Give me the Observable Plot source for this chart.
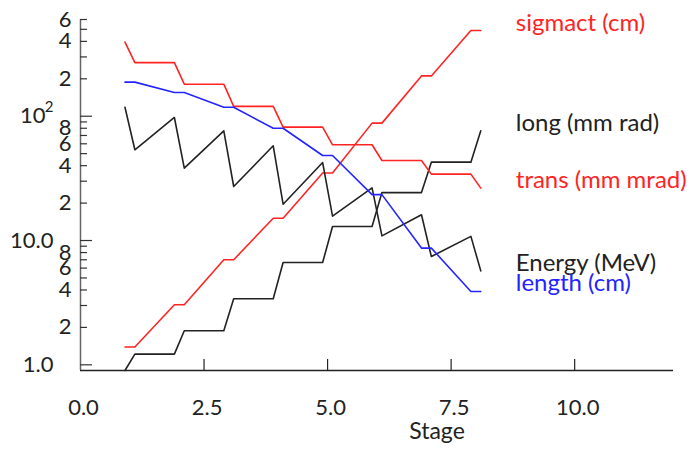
<!DOCTYPE html>
<html><head><meta charset="utf-8">
<script src="https://cdn.jsdelivr.net/npm/d3@7"></script>
<script src="https://cdn.jsdelivr.net/npm/@observablehq/plot@0.6"></script>
<style>body{margin:0;background:#fff}</style>
</head><body><div id="chart"></div>
<script>
// Stage positions (each stage has a value just before and just after it)
const stageX = [0.9,1.1,1.9,2.1,2.9,3.1,3.9,4.1,4.9,5.1,5.9,6.1,6.9,7.1,7.9,8.1];
const sigmact = [1.39,1.39,3.04,3.04,7.0,7.0,15.1,15.1,34.9,34.9,88,88,211,211,489,489];
const longEmit = [0.9,1.22,1.22,1.88,1.88,3.40,3.40,6.65,6.65,12.97,12.97,24.3,24.3,42.7,42.7,76.3];
const trans = [395,270,270,181,181,120,120,81.7,81.7,58.9,58.9,44,44,34.2,34.2,26.4];
const energy = [118,53.7,97.7,38.2,76.3,27.2,57.8,19.6,42.4,15.7,26.5,10.9,16.1,7.43,10.8,5.7];
const lengthCm = [188,188,155,155,118,118,80,80,48.3,48.3,23.4,23.4,8.69,8.69,3.89,3.89];

const seriesNames = ["sigmact (cm)","long (mm rad)","trans (mm mrad)","Energy (MeV)","length (cm)"];
const seriesValues = [sigmact, longEmit, trans, energy, lengthCm];
const seriesColors = ["#ff2424","#222222","#ff2424","#222222","#2424ff"];

const xTicks = [0, 2.5, 5, 7.5, 10];
const yMajor = [1, 10, 100];
const yMinor = [2,3,4,5,6,7,8,9,20,30,40,50,60,70,80,90,200,300,400,500,600];
const yMinorLabelled = [2,4,6,8,20,40,60,80,200,400,600];
const yMinorText = ["2","4","6","8","2","4","6","8","2","4","6"];
const yMajorText = ["1.0","10.0","10"];
const yExponent = [{y: 100, text: "2"}];

const rows = seriesNames.flatMap((name, i) =>
  stageX.map((x, j) => ({series: name, x, y: seriesValues[i][j]})));

const chart = Plot.plot({
  width: 694,
  height: 449,
  marginLeft: 80,
  marginRight: 21,
  marginTop: 19,
  marginBottom: 79,
  style: {fontFamily: "Lato, 'DejaVu Sans', sans-serif", fontSize: "22px", color: "#222", background: "#fff"},
  x: {domain: [0, 12], axis: null},
  y: {type: "log", domain: [0.9, 600], axis: null},
  color: {domain: seriesNames, range: seriesColors},
  marks: [
    Plot.ruleX([0], {stroke: "#666", strokeWidth: 1.5}),
    Plot.ruleY([0.9], {stroke: "#222", strokeWidth: 1.3}),
    // y ticks (inward)
    Plot.axisY(yMinor, {anchor: "left", tickSize: -7, fill: "none", stroke: "#333", strokeWidth: 1.2, label: null}),
    Plot.axisY(yMajor, {anchor: "left", tickSize: -12, fill: "none", stroke: "#333", strokeWidth: 1.2, label: null}),
    // y labels
    Plot.text(yMinorLabelled, {y: d => d, text: (d, i) => yMinorText[i], frameAnchor: "left", dx: -9, textAnchor: "end", fill: "#222"}),
    Plot.text(yMajor, {y: d => d, text: (d, i) => yMajorText[i], frameAnchor: "left", dx: (-27), textAnchor: "end", fill: "#222",
      filter: d => d !== 100}),
    Plot.text([100], {y: d => d, text: (d, i) => yMajorText[2], frameAnchor: "left", dx: -35, textAnchor: "end", fill: "#222"}),
    Plot.text(yExponent, {y: "y", text: "text", frameAnchor: "left", dx: -27, dy: -9, textAnchor: "end", fill: "#222", fontSize: 15}),
    // x ticks (inward) and labels
    Plot.axisX(xTicks.filter(d => d > 0), {anchor: "bottom", tickSize: -11, fill: "none", stroke: "#222", strokeWidth: 1.2, label: null}),
    Plot.text(xTicks, {x: d => d, text: d => d3.format(".1f")(d), frameAnchor: "bottom", dx: 3, dy: 44, lineAnchor: "bottom", fill: "#222"}),
    Plot.text(["Stage"], {text: d => d, frameAnchor: "bottom", dx: 60, dy: 68, lineAnchor: "bottom", fontSize: 23, fill: "#222"}),
    // series
    Plot.line(rows, {x: "x", y: "y", z: "series", stroke: "series", strokeWidth: 1.6}),
    Plot.text(rows, Plot.selectLast({x: "x", y: "y", z: "series", text: "series", fill: "series",
      dx: 35, textAnchor: "start", lineAnchor: "bottom", fontSize: 24}))
  ]
});
document.getElementById("chart").appendChild(chart);
</script>
</body></html>
